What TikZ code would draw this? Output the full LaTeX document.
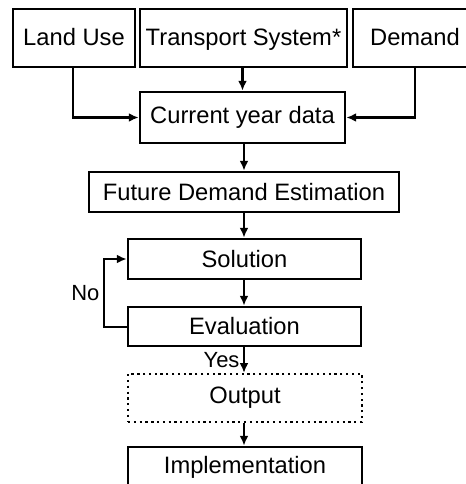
\documentclass[tikz,border=0pt]{standalone}
\usepackage{fontspec}
\setmainfont{Liberation Sans}
\usepackage{tikz}
\usetikzlibrary{arrows.meta}

\tikzset{
  box/.style={draw, line width=1.6pt, inner sep=0pt, font=\fontsize{13.5}{16}\selectfont},
  topbox/.style={box, text height=0.9em, text depth=0.05em},
  dotbox/.style={box, line width=1.3pt, dotted},
  arr/.style={line width=1.2pt, -{Latex[length=5.5pt,width=5pt]}},
  lbl/.style={font=\fontsize{12.5}{15}\selectfont, inner sep=2pt}
}

\begin{document}
\begin{tikzpicture}[x=0.02cm, y=-0.02cm]
\useasboundingbox (0,0) rectangle (466,484);
\clip (0,0) rectangle (466,484);
\node[topbox, minimum width=2.44cm, minimum height=1.16cm] (landuse) at (74,38) {Land Use};
\node[topbox, minimum width=4.14cm, minimum height=1.16cm] (transport) at (243.5,38) {Transport System*};
\node[topbox, minimum width=2.48cm, minimum height=1.16cm] (demand) at (415,38) {Demand};
\node[box, minimum width=4.1cm, minimum height=1.02cm] (current) at (242.5,117.5) {Current year data};
\node[box, minimum width=6.2cm, minimum height=0.8cm] (future) at (244,192) {Future Demand Estimation};
\node[box, minimum width=4.66cm, minimum height=0.8cm] (solution) at (244.5,259) {Solution};
\node[box, minimum width=4.66cm, minimum height=0.78cm] (evaluation) at (244.5,326.5) {Evaluation};
\node[dotbox, minimum width=4.68cm, minimum height=0.96cm] (output) at (245,398) {Output};
\node[box, minimum width=4.68cm, minimum height=0.8cm] (implementation) at (245,467) {Implementation};
% inputs
\draw[arr] (landuse.south -| 73,0) |- (current.west);
\draw[arr] (demand.south) |- (current.east);
\draw[arr] (transport.south -| current.north) -- (current.north);
% main chain
\draw[arr] (current.south -| 244,0) -- (future.north -| 244,0);
\draw[arr] (future.south -| 244,0) -- (solution.north -| 244,0);
\draw[arr] (solution.south -| 244,0) -- (evaluation.north -| 244,0);
\draw[arr] (evaluation.south -| 244,0) -- node[lbl, left] {Yes} (output.north -| 244,0);
\draw[arr] (output.south -| 244,0) -- (implementation.north -| 244,0);
% loop back
\coordinate (back) at (104,327);
\draw[arr] (evaluation.west |- back) -- (back) -- node[lbl, left] {No} (back |- solution.west) -- (solution.west);
\end{tikzpicture}
\end{document}
